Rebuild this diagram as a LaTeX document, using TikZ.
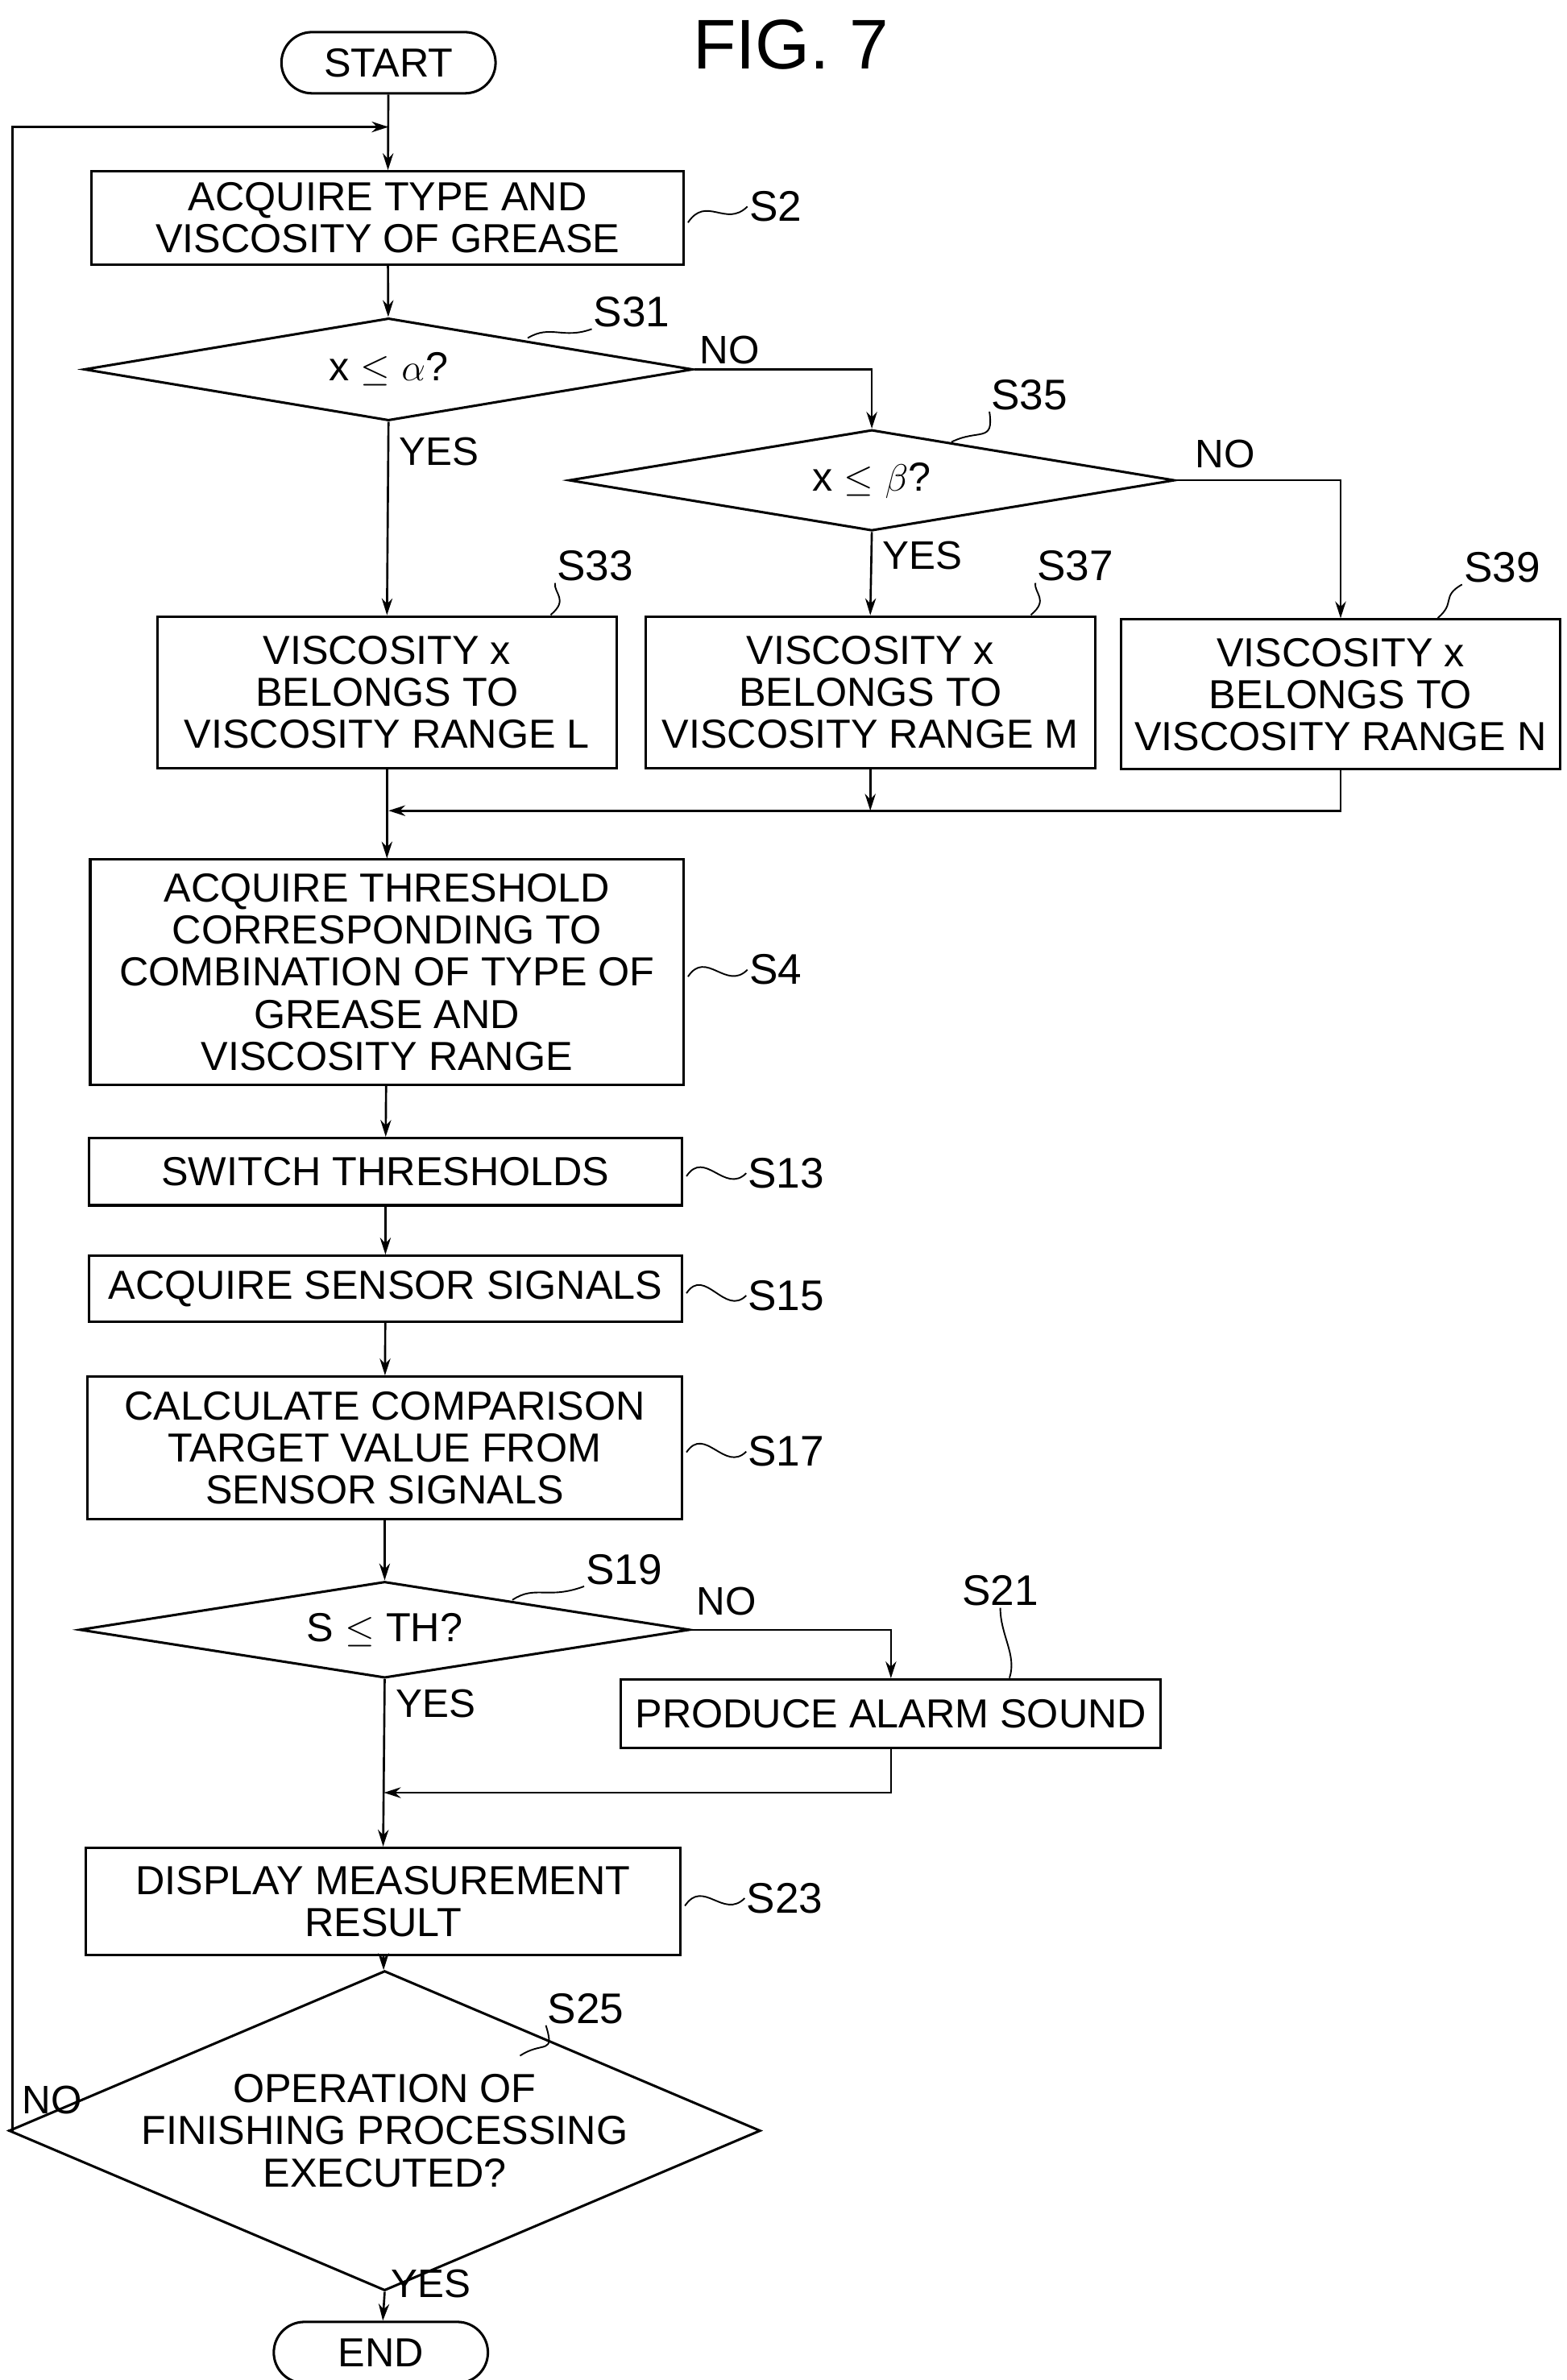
\documentclass[tikz,border=0pt]{standalone}
\usepackage{fontspec}
\setmainfont{Liberation Sans}
\usetikzlibrary{positioning,shapes.geometric,arrows.meta}

\tikzset{
  box/.style={draw,line width=1.6pt,align=center,inner sep=0pt},
  dia/.style={draw,line width=1.6pt,diamond,aspect=6,inner sep=0pt,align=center},
  term/.style={draw,line width=1.6pt,rounded corners=20pt,minimum width=140pt,minimum height=40pt},
  flow/.style={line width=1.4pt,-{Stealth[length=11pt,width=7pt]}},
  line/.style={line width=1.4pt},
  tag/.style={font=\fontsize{28}{30}\selectfont,inner sep=1pt},
  yn/.style={font=\fontsize{26}{28}\selectfont,inner sep=1pt}
}

\begin{document}
\begin{tikzpicture}[x=1pt,y=-1pt,font=\fontsize{26.5}{27.5}\selectfont]
\useasboundingbox (0,0) rectangle (1024,1556);

% Terminals and boxes
\node[term] (start) at (254,41) {START};
\node[font=\fontsize{46}{48}\selectfont] (fig) at (517,29) {FIG. 7};
\node[box,minimum width=387pt,minimum height=61pt] (s2) at (253.5,142.5) {ACQUIRE TYPE AND\\VISCOSITY OF GREASE};
\node[dia,minimum width=398pt,minimum height=67pt] (s31) at (254,241.5) {x $\leq$ $\alpha$?};
\node[dia,minimum width=396pt,minimum height=66pt] (s35) at (570,314) {x $\leq$ $\beta$?};
\node[box,minimum width=300pt,minimum height=99pt] (s33) at (253,452.5) {VISCOSITY x\\BELONGS TO\\VISCOSITY RANGE L};
\node[box,minimum width=294pt,minimum height=99pt] (s37) at (569,452.5) {VISCOSITY x\\BELONGS TO\\VISCOSITY RANGE M};
\node[box,minimum width=287pt,minimum height=98pt] (s39) at (876.5,454) {VISCOSITY x\\BELONGS TO\\VISCOSITY RANGE N};
\node[box,minimum width=388pt,minimum height=147pt] (s4) at (253,635.5) {ACQUIRE THRESHOLD\\CORRESPONDING TO\\COMBINATION OF TYPE OF\\GREASE AND\\VISCOSITY RANGE};
\node[box,minimum width=388pt,minimum height=44pt] (s13) at (252,766) {SWITCH THRESHOLDS};
\node[box,minimum width=388pt,minimum height=43pt] (s15) at (252,842.5) {ACQUIRE SENSOR SIGNALS};
\node[box,minimum width=389pt,minimum height=93pt] (s17) at (251.5,946.5) {CALCULATE COMPARISON\\TARGET VALUE FROM\\SENSOR SIGNALS};
\node[dia,minimum width=399pt,minimum height=63pt] (s19) at (251.5,1065.5) {S $\leq$ TH?};
\node[box,minimum width=353pt,minimum height=45pt] (s21) at (582.5,1120.5) {PRODUCE ALARM SOUND};
\node[box,minimum width=389pt,minimum height=70pt] (s23) at (250.5,1243) {DISPLAY MEASUREMENT\\RESULT};
\node[dia,aspect=2.35,minimum width=399pt,minimum height=170pt] (s25) at (251.5,1393) {OPERATION OF\\FINISHING PROCESSING\\EXECUTED?};
\node[term] (end) at (249,1538) {END};

% Step labels
\node[tag] (l2) at (507,135) {S2};
\node[tag] (l31) at (413,204) {S31};
\node[tag] (l35) at (673,258) {S35};
\node[tag] (l33) at (389,370) {S33};
\node[tag] (l37) at (703,370) {S37};
\node[tag] (l39) at (982,371) {S39};
\node[tag] (l4) at (507,634) {S4};
\node[tag] (l13) at (514,767) {S13};
\node[tag] (l15) at (514,847) {S15};
\node[tag] (l17) at (514,949) {S17};
\node[tag] (l19) at (408,1026) {S19};
\node[tag] (l21) at (654,1040) {S21};
\node[tag] (l23) at (513,1241) {S23};
\node[tag] (l25) at (383,1313) {S25};

% Tildes
\foreach \b/\l in {s2/l2,s4/l4,s13/l13,s15/l15,s17/l17,s23/l23}
  \draw[line width=1pt] (\b.east) ++(2,3) .. controls +(12,-18) and +(-14,14) .. (\l.west);
\draw[line width=1pt] (345,221) .. controls (360,212) and (368,222) .. (l31.south west);
\draw[line width=1pt] (622,289) .. controls (640,280) and (650,290) .. (l35.south west);
\draw[line width=1pt] (360,402) .. controls (372,392) and (362,388) .. (l33.south west);
\draw[line width=1pt] (674,402) .. controls (686,392) and (676,388) .. (l37.south west);
\draw[line width=1pt] (940,404) .. controls (952,394) and (942,390) .. (l39.south west);
\draw[line width=1pt] (335,1046) .. controls (350,1036) and (358,1046) .. (l19.south west);
\draw[line width=1pt] (l21.south) .. controls +(0,18) and +(5,-15) .. (660,1097);
\draw[line width=1pt] (340,1344) .. controls (355,1334) and (363,1344) .. (l25.south west);

% Yes/No labels
\node[yn] at (477,229) {NO};
\node[yn] at (287,295) {YES};
\node[yn] at (603,363) {YES};
\node[yn] at (801,297) {NO};
\node[yn] at (475,1047) {NO};
\node[yn] at (285,1114) {YES};
\node[yn] at (34,1373) {NO};
\node[yn] at (282,1493) {YES};

% Connectors
\coordinate (top) at (254,83);
\coordinate (m1) at (254,530);
\coordinate (m2) at (251,1172);
\draw[flow] (start) -- (s2);
\draw[flow] (s2) -- (s31);
\draw[flow] (s31.east) -| (s35.north);
\draw[flow] (s31.south) -- (s33.north);
\draw[flow] (s35.south) -- (s37.north);
\draw[flow] (s35.east) -| (s39.north);
\draw[flow] (s37.south) -- (s37.south |- m1);
\draw[flow] (s39.south) |- (m1);
\draw[flow] (s33.south) -- (s4.north);
\draw[flow] (s4) -- (s13);
\draw[flow] (s13) -- (s15);
\draw[flow] (s15) -- (s17);
\draw[flow] (s17) -- (s19);
\draw[flow] (s19.east) -| (s21.north);
\draw[flow] (s19.south) -- (s23.north);
\draw[flow] (s21.south) |- (m2);
\draw[flow] (s23) -- (s25);
\draw[flow] (s25.south) -- (end);
\draw[flow] (s25.west) -- (8,1393) -- (8,83) -- (top);
\end{tikzpicture}
\end{document}
